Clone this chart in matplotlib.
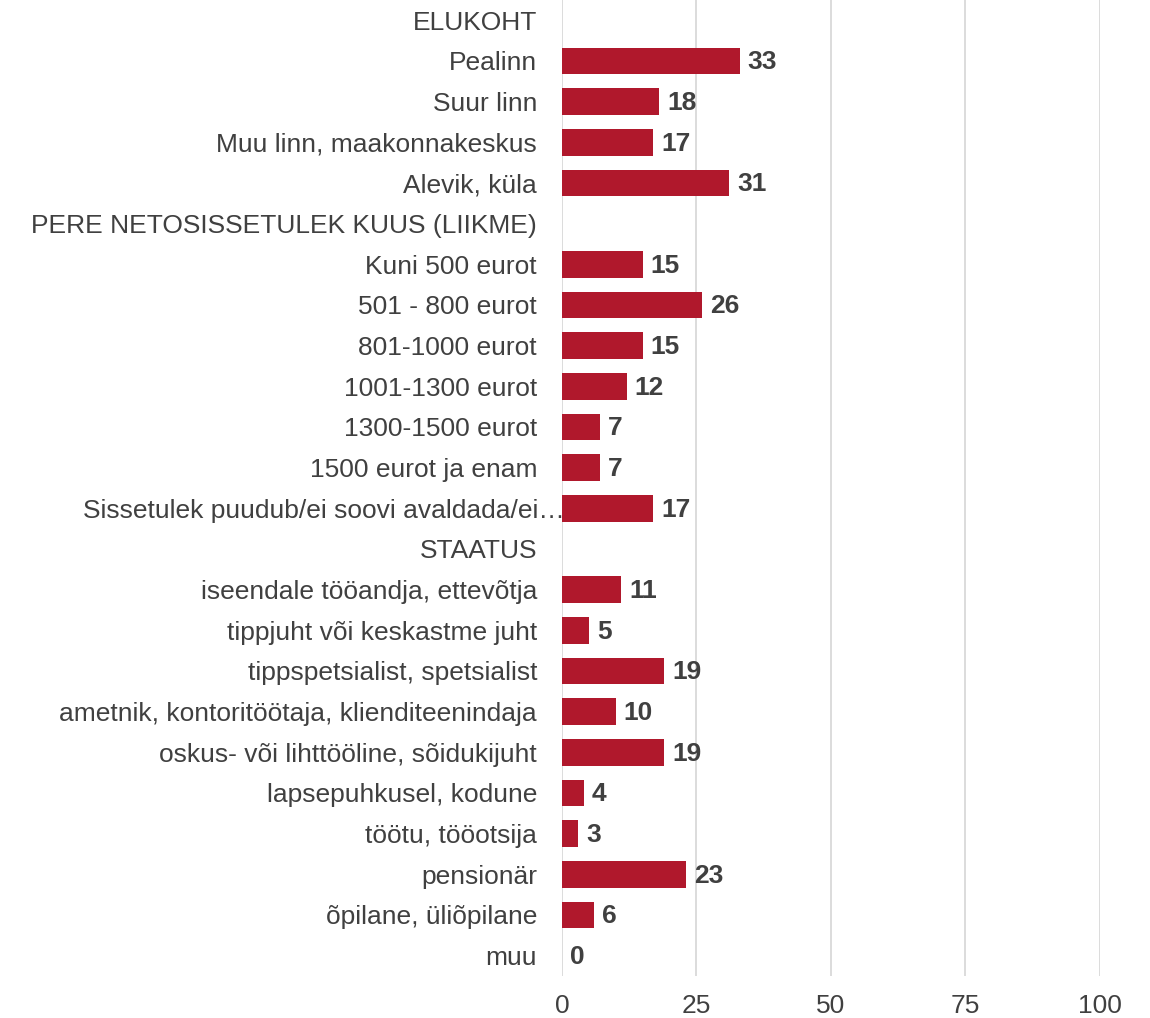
import matplotlib.pyplot as plt
from matplotlib.transforms import ScaledTranslation

# Andmed
kategooriad = [
    "ELUKOHT", "Pealinn", "Suur linn", "Muu linn, maakonnakeskus", "Alevik, küla",
    "PERE NETOSISSETULEK KUUS (LIIKME)", "Kuni 500 eurot", "501 - 800 eurot",
    "801-1000 eurot", "1001-1300 eurot", "1300-1500 eurot", "1500 eurot ja enam",
    "Sissetulek puudub/ei soovi avaldada/ei…", "STAATUS",
    "iseendale tööandja, ettevõtja", "tippjuht või keskastme juht",
    "tippspetsialist, spetsialist", "ametnik, kontoritöötaja, klienditeenindaja",
    "oskus- või lihttööline, sõidukijuht", "lapsepuhkusel, kodune",
    "töötu, tööotsija", "pensionär", "õpilane, üliõpilane", "muu",
]
vaartused = [None, 33, 18, 17, 31, None, 15, 26, 15, 12, 7, 7, 17, None,
             11, 5, 19, 10, 19, 4, 3, 23, 6, 0]
x_ticks = [0, 25, 50, 75, 100]

plt.rcParams['font.family'] = ['Liberation Sans', 'DejaVu Sans']

fig = plt.figure(figsize=(11.5, 10.18), dpi=100)
ax = fig.add_axes([0.4887, 0.0413, 0.4678, 0.9587])

y = list(range(len(kategooriad)))
for i, v in enumerate(vaartused):
    if v is None:
        continue
    ax.barh(i, v, height=0.66, color='#B0182C', zorder=3)
    ax.text(v + 1.5, i + 0.03, str(v), va='center', ha='left', fontsize=19,
            fontweight='bold', color='#404040', zorder=4)

ax.set_yticks(y)
ax.set_yticklabels(kategooriad, fontsize=19, color='#404040')
ax.set_ylim(len(kategooriad) - 0.5, -0.5)
ax.set_xlim(0, 100)
ax.set_xticks(x_ticks)
ax.set_xticklabels([str(t) for t in x_ticks], fontsize=19, color='#404040')
ax.tick_params(axis='y', length=0, pad=18)
ax.tick_params(axis='x', length=0, pad=13)
ax.grid(axis='x', color='#d9d9d9', linewidth=1.3, zorder=0)
for s in ax.spines.values():
    s.set_visible(False)

# pikk silt ulatub veidi teljeni nagu originaalis
lbl = ax.get_yticklabels()[12]
lbl.set_transform(lbl.get_transform() + ScaledTranslation(0.28, 0, fig.dpi_scale_trans))

plt.savefig('out.png', dpi=100)
